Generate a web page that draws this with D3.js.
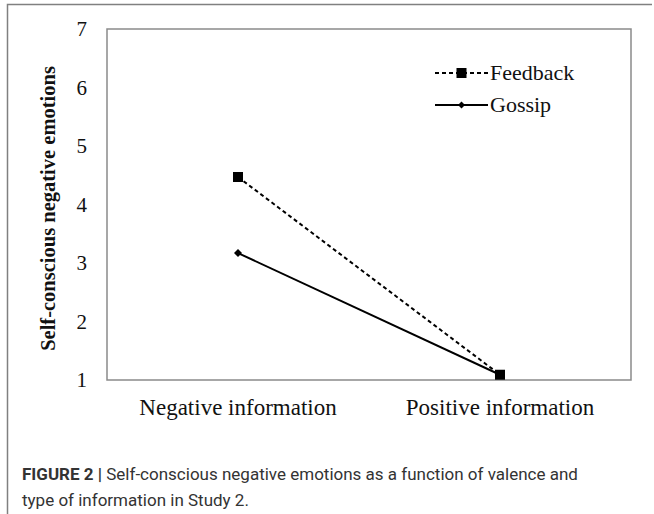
<!DOCTYPE html>
<html>
<head>
<meta charset="utf-8">
<script src="https://d3js.org/d3.v7.min.js"></script>
<style>
  body { margin: 0; background: #fff; }
  svg { display: block; }
</style>
</head>
<body>
<svg id="chart" width="654" height="514"></svg>
<script>
const categories = ['Negative information', 'Positive information'];
const feedback = [4.47, 1.09];
const gossip = [3.17, 1.09];
const yTicks = [1, 2, 3, 4, 5, 6, 7];
const seriesNames = ['Feedback', 'Gossip'];

const svg = d3.select('#chart');
const serif = "'Liberation Serif', 'Times New Roman', serif";

// outer figure frame (left + top only)
svg.append('path')
  .attr('d', 'M7.5,514 L7.5,4.5 L652,4.5')
  .attr('fill', 'none')
  .attr('stroke', '#808080')
  .attr('stroke-width', 1.5);

const plotL = 107, plotR = 631, plotT = 29, plotB = 380;

const x = d3.scaleBand().domain(categories).range([plotL, plotR]);
const y = d3.scaleLinear().domain([1, 7]).range([plotB, plotT]);

// plot box
svg.append('rect')
  .attr('x', plotL).attr('y', plotT)
  .attr('width', plotR - plotL).attr('height', plotB - plotT)
  .attr('fill', 'none')
  .attr('stroke', '#8a8a8a')
  .attr('stroke-width', 1.5);

// y axis labels
const yAxis = svg.append('g')
  .attr('transform', `translate(${plotL},0)`)
  .call(d3.axisLeft(y).tickValues(yTicks).tickFormat(d3.format('d')).tickSize(0).tickPadding(20));
yAxis.select('.domain').remove();
yAxis.selectAll('text')
  .attr('font-family', serif)
  .attr('font-size', 21)
  .attr('fill', '#111');

// x axis labels
const xAxis = svg.append('g')
  .attr('transform', `translate(0,${plotB})`)
  .call(d3.axisBottom(x).tickSize(0).tickPadding(19));
xAxis.select('.domain').remove();
xAxis.selectAll('text')
  .attr('font-family', serif)
  .attr('font-size', 23)
  .attr('fill', '#111');

// y axis title
svg.append('text')
  .attr('transform', `translate(55,${(plotT + plotB) / 2 + 4}) rotate(-90)`)
  .attr('text-anchor', 'middle')
  .attr('font-family', serif)
  .attr('font-weight', 'bold')
  .attr('font-size', 20.5)
  .attr('fill', '#111')
  .text('Self-conscious negative emotions');

const cx = d => x(d) + x.bandwidth() / 2;
const line = d3.line()
  .x((d, i) => cx(categories[i]))
  .y(d => y(d));

svg.append('path')
  .datum(gossip)
  .attr('fill', 'none')
  .attr('stroke', '#000')
  .attr('stroke-width', 2)
  .attr('d', line);

svg.append('path')
  .datum(feedback)
  .attr('fill', 'none')
  .attr('stroke', '#000')
  .attr('stroke-width', 2)
  .attr('stroke-dasharray', '4,3')
  .attr('d', line);

// gossip diamonds
svg.selectAll('.dia')
  .data(gossip)
  .enter().append('path')
  .attr('transform', (d, i) => `translate(${cx(categories[i])},${y(d)})`)
  .attr('d', 'M0,-4 L4,0 L0,4 L-4,0 Z')
  .attr('fill', '#000');

// feedback squares
svg.selectAll('.sq')
  .data(feedback)
  .enter().append('rect')
  .attr('x', (d, i) => cx(categories[i]) - 5)
  .attr('y', d => y(d) - 5)
  .attr('width', 10)
  .attr('height', 10)
  .attr('fill', '#000');

// legend
const legend = svg.append('g').attr('transform', 'translate(435,73)');
seriesNames.forEach((name, i) => {
  const g = legend.append('g').attr('transform', `translate(0,${i * 32})`);
  g.append('line')
    .attr('x1', 0).attr('x2', 53)
    .attr('stroke', '#000')
    .attr('stroke-width', 2)
    .attr('stroke-dasharray', i === 0 ? '4,3' : null);
  if (i === 0) {
    g.append('rect').attr('x', 21.5).attr('y', -5).attr('width', 10).attr('height', 10).attr('fill', '#000');
  } else {
    g.append('path').attr('transform', 'translate(26.5,0)').attr('d', 'M0,-3.5 L3.5,0 L0,3.5 L-3.5,0 Z').attr('fill', '#000');
  }
  g.append('text')
    .attr('x', 55)
    .attr('dy', '0.33em')
    .attr('font-family', serif)
    .attr('font-size', 22)
    .attr('fill', '#111')
    .text(name);
});

// caption
const sans = "Roboto, 'Liberation Sans', Arial, sans-serif";
const cap = svg.append('text')
  .attr('x', 22).attr('y', 480)
  .attr('font-family', sans)
  .attr('font-size', 17)
  .attr('fill', '#333');
cap.append('tspan').attr('font-weight', 'bold').text('FIGURE 2 | ');
cap.append('tspan').text('Self-conscious negative emotions as a function of valence and');
svg.append('text')
  .attr('x', 22).attr('y', 506)
  .attr('font-family', sans)
  .attr('font-size', 17)
  .attr('fill', '#333')
  .text('type of information in Study 2.');
</script>
</body>
</html>
